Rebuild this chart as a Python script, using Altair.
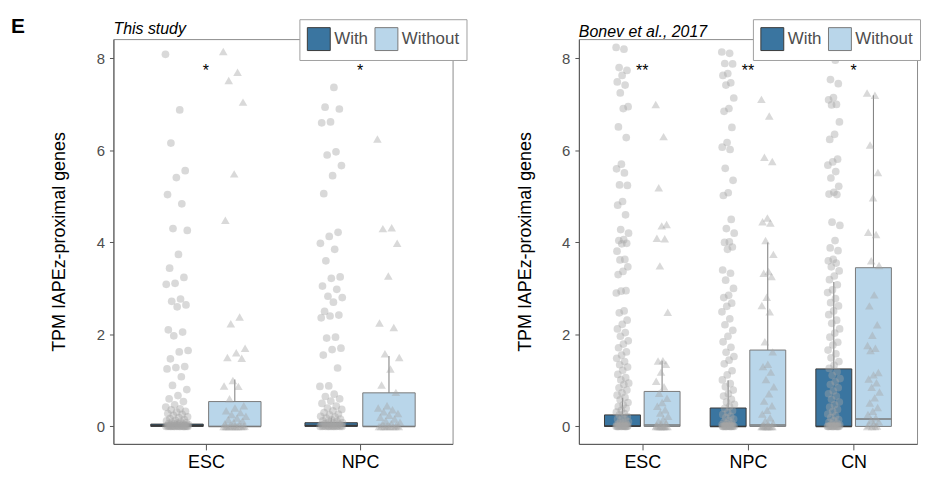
import altair as alt
import pandas as pd

# ---------------- data ----------------
groups = ["With", "Without"]
group_fill = ["#3A75A0", "#B9D6EA"]
group_stroke = ["#3A3A3A", "#7A7A7A"]
group_shape = ["circle", "triangle-up"]
group_size = [60, 75]
y_title = "TPM IAPEz-proximal genes"
panel_label = "E"
star_y = 7.72

# ---- panel 1: This study ----
p1_title = "This study"
p1_cats = ["ESC", "NPC"]
p1_sig = ["*", "*"]
p1_box_cat = ["ESC", "ESC", "NPC", "NPC"]
p1_box_grp = ["With", "Without", "With", "Without"]
p1_lower = [0.0, 0.0, 0.0, 0.0]
p1_q1 = [0.0, 0.0, 0.0, 0.0]
p1_median = [0.02, 0.0, 0.02, 0.0]
p1_q3 = [0.05, 0.54, 0.08, 0.73]
p1_upper = [0.12, 1.02, 0.19, 1.53]

p1_esc_with = [8.09, 6.88, 6.16, 5.56, 5.41, 5.04, 4.84, 4.30, 4.26, 3.74, 3.44, 3.24,
               3.11, 3.09, 2.77, 2.72, 2.64, 2.60, 2.10, 2.05, 1.97, 1.65, 1.62, 1.47,
               1.30, 1.28, 1.25, 1.08, 0.89, 0.80, 0.67, 0.60, 0.54, 0.47, 0.42, 0.38,
               0.36, 0.33, 0.31, 0.28, 0.26, 0.24, 0.21, 0.19, 0.17, 0.15, 0.13, 0.12,
               0.10, 0.09, 0.08, 0.07, 0.06, 0.05, 0.05, 0.04, 0.04, 0.03, 0.03, 0.02,
               0.02, 0.02, 0.01, 0.01, 0.01, 0.01, 0.0, 0.0, 0.0, 0.0, 0.0, 0.0,
               0.0, 0.0, 0.0, 0.0, 0.0, 0.0, 0.0, 0.0]
p1_esc_without = [8.15, 7.70, 7.52, 7.05, 5.49, 4.48, 2.38, 2.23, 1.70, 1.60, 1.50, 1.48,
                  1.00, 0.88, 0.87, 0.60, 0.45, 0.40, 0.34, 0.30, 0.26, 0.22, 0.18, 0.15,
                  0.12, 0.09, 0.06, 0.04, 0.02, 0.01, 0.0, 0.0, 0.0, 0.0, 0.0, 0.0,
                  0.0, 0.0, 0.0, 0.0]
p1_npc_with = [8.10, 7.37, 6.94, 6.90, 6.62, 6.60, 5.97, 5.90, 5.67, 5.45, 5.06, 4.22,
               4.13, 3.98, 3.85, 3.60, 3.25, 3.22, 3.05, 2.98, 2.83, 2.80, 2.70, 2.50,
               2.42, 2.40, 2.36, 1.94, 1.92, 1.70, 1.67, 1.55, 1.27, 0.88, 0.87, 0.70,
               0.65, 0.60, 0.55, 0.50, 0.44, 0.40, 0.37, 0.34, 0.30, 0.27, 0.25, 0.22,
               0.20, 0.18, 0.16, 0.14, 0.12, 0.11, 0.09, 0.08, 0.07, 0.06, 0.05, 0.04,
               0.04, 0.03, 0.03, 0.02, 0.02, 0.01, 0.01, 0.0, 0.0, 0.0, 0.0, 0.0,
               0.0, 0.0, 0.0, 0.0, 0.0, 0.0]
p1_npc_without = [6.25, 4.32, 4.30, 3.98, 3.27, 2.25, 2.15, 1.58, 1.50, 1.25, 0.90, 0.74,
                  0.45, 0.40, 0.36, 0.32, 0.28, 0.24, 0.20, 0.16, 0.12, 0.09, 0.06, 0.04,
                  0.02, 0.01, 0.0, 0.0, 0.0, 0.0, 0.0, 0.0, 0.0, 0.0]

# ---- panel 2: Bonev et al., 2017 ----
p2_title = "Bonev et al., 2017"
p2_cats = ["ESC", "NPC", "CN"]
p2_sig = ["**", "**", "*"]
p2_box_cat = ["ESC", "ESC", "NPC", "NPC", "CN", "CN"]
p2_box_grp = ["With", "Without", "With", "Without", "With", "Without"]
p2_lower = [0.0, 0.0, 0.0, 0.0, 0.0, 0.0]
p2_q1 = [0.0, 0.0, 0.0, 0.0, 0.0, 0.0]
p2_median = [0.01, 0.03, 0.0, 0.03, 0.0, 0.16]
p2_q3 = [0.25, 0.76, 0.40, 1.66, 1.25, 3.45]
p2_upper = [0.62, 1.43, 1.00, 4.00, 3.14, 7.20]

p2_esc_with = [8.24, 8.20, 7.80, 7.74, 7.63, 7.49, 7.42, 7.25, 6.95, 6.91, 6.51, 6.28,
               5.70, 5.60, 5.51, 5.25, 5.24, 4.89, 4.81, 4.60, 4.28, 4.20, 4.06, 4.04,
               3.98, 3.97, 3.81, 3.63, 3.62, 3.47, 3.37, 3.30, 2.95, 2.94, 2.90, 2.51,
               2.47, 2.31, 2.22, 2.12, 2.04, 1.96, 1.86, 1.79, 1.71, 1.62, 1.55, 1.48,
               1.41, 1.34, 1.29, 1.22, 1.13, 1.06, 1.01, 0.94, 0.91, 0.84, 0.79, 0.73,
               0.68, 0.63, 0.58, 0.52, 0.47, 0.43, 0.39, 0.35, 0.31, 0.28, 0.25, 0.22,
               0.19, 0.16, 0.14, 0.12, 0.10, 0.08, 0.06, 0.05, 0.04, 0.03, 0.02, 0.02,
               0.01, 0.01, 0.0, 0.0, 0.0, 0.0, 0.0, 0.0, 0.0, 0.0, 0.0, 0.0]
p2_esc_without = [7.00, 6.30, 5.19, 4.39, 4.36, 4.09, 4.08, 3.49, 2.48, 1.43, 1.42, 1.35,
                  1.18, 0.98, 0.86, 0.72, 0.61, 0.52, 0.44, 0.36, 0.29, 0.22, 0.16, 0.11,
                  0.07, 0.04, 0.02, 0.01, 0.0, 0.0, 0.0, 0.0, 0.0, 0.0, 0.0, 0.0]
p2_npc_with = [8.14, 8.11, 7.89, 7.88, 7.67, 7.63, 7.47, 7.42, 7.14, 6.91, 6.85, 6.50,
               6.17, 6.07, 6.02, 5.61, 5.35, 5.08, 5.02, 4.50, 4.30, 4.20, 4.01, 4.00,
               3.90, 3.85, 3.40, 3.33, 3.18, 3.00, 2.85, 2.80, 2.68, 2.61, 2.49, 2.34,
               2.21, 2.09, 1.96, 1.84, 1.72, 1.61, 1.52, 1.44, 1.36, 1.21, 1.12, 1.01,
               0.93, 0.86, 0.79, 0.71, 0.66, 0.59, 0.53, 0.48, 0.43, 0.39, 0.34, 0.30,
               0.26, 0.22, 0.19, 0.16, 0.13, 0.10, 0.08, 0.06, 0.04, 0.03, 0.02, 0.01,
               0.01, 0.0, 0.0, 0.0, 0.0, 0.0, 0.0, 0.0, 0.0, 0.0, 0.0, 0.0]
p2_npc_without = [7.11, 6.75, 5.85, 5.76, 4.53, 4.45, 4.42, 4.04, 3.74, 3.37, 3.33, 3.26,
                  2.81, 2.63, 2.49, 1.84, 1.62, 1.35, 1.30, 1.18, 1.02, 0.86, 0.71, 0.55,
                  0.45, 0.35, 0.27, 0.19, 0.12, 0.07, 0.04, 0.02, 0.0, 0.0, 0.0, 0.0,
                  0.0, 0.0, 0.0, 0.0]
p2_cn_with = [8.20, 7.96, 7.54, 7.45, 7.15, 7.10, 7.00, 6.99, 6.62, 6.35, 6.24, 5.81,
              5.75, 5.68, 5.54, 5.40, 5.22, 5.09, 5.05, 5.04, 4.44, 4.37, 4.04, 3.88,
              3.82, 3.63, 3.60, 3.55, 3.47, 3.38, 3.27, 3.19, 3.08, 2.97, 2.91, 2.78,
              2.69, 2.62, 2.51, 2.43, 2.31, 2.24, 2.12, 2.03, 1.94, 1.83, 1.77, 1.66,
              1.58, 1.49, 1.41, 1.33, 1.26, 1.19, 1.11, 1.04, 0.97, 0.91, 0.84, 0.77,
              0.71, 0.66, 0.59, 0.53, 0.47, 0.42, 0.37, 0.32, 0.27, 0.23, 0.19, 0.15,
              0.12, 0.09, 0.07, 0.05, 0.03, 0.02, 0.01, 0.0, 0.0, 0.0, 0.0, 0.0,
              0.0, 0.0, 0.0, 0.0, 0.0, 0.0]
p2_cn_without = [7.25, 7.20, 6.12, 5.52, 4.97, 4.22, 4.17, 3.60, 3.50, 2.86, 2.62, 2.21,
                 1.98, 1.76, 1.70, 1.65, 1.17, 1.12, 1.03, 0.95, 0.85, 0.75, 0.62, 0.51,
                 0.41, 0.33, 0.26, 0.19, 0.14, 0.10, 0.06, 0.03, 0.01, 0.0, 0.0, 0.0]

# ---------------- build tables ----------------
DODGE = 0.1875
HALF_BOX = 0.17
Y_DOMAIN = [-0.38, 8.42]


def box_table(cats, bcat, bgrp, lower, q1, med, q3, upper):
    rows = []
    for c, g, lo, a, m, b, hi in zip(bcat, bgrp, lower, q1, med, q3, upper):
        pos = cats.index(c) + 1 + (-DODGE if g == groups[0] else DODGE)
        rows.append(dict(cat=c, grp=g, pos=pos, x_lo=pos - HALF_BOX, x_hi=pos + HALF_BOX,
                         lower=lo, q1=a, median=m, q3=b, upper=hi))
    return pd.DataFrame(rows)


def point_table(cats, series):
    rows = []
    for (c, g), vals in series.items():
        pos = cats.index(c) + 1 + (-DODGE if g == groups[0] else DODGE)
        for k, v in enumerate(vals):
            rows.append(dict(cat=c, ptgrp=g, pos=pos, k=k, value=v))
    return pd.DataFrame(rows)


p1_box = box_table(p1_cats, p1_box_cat, p1_box_grp, p1_lower, p1_q1, p1_median, p1_q3, p1_upper)
p2_box = box_table(p2_cats, p2_box_cat, p2_box_grp, p2_lower, p2_q1, p2_median, p2_q3, p2_upper)
p1_pts = point_table(p1_cats, {("ESC", "With"): p1_esc_with, ("ESC", "Without"): p1_esc_without,
                               ("NPC", "With"): p1_npc_with, ("NPC", "Without"): p1_npc_without})
p2_pts = point_table(p2_cats, {("ESC", "With"): p2_esc_with, ("ESC", "Without"): p2_esc_without,
                               ("NPC", "With"): p2_npc_with, ("NPC", "Without"): p2_npc_without,
                               ("CN", "With"): p2_cn_with, ("CN", "Without"): p2_cn_without})


def make_panel(cats, sig, box, pts, title, width, jitter, legend_x, add_label):
    n = len(cats)
    label_expr = " : ".join([f"datum.value == {i + 1} ? '{c}'" for i, c in enumerate(cats)]) + " : ''"
    xscale = alt.Scale(domain=[0.4, n + 0.6], nice=False, zero=False)
    yscale = alt.Scale(domain=Y_DOMAIN, nice=False, zero=False)
    xaxis = alt.Axis(values=list(range(1, n + 1)), labelExpr=label_expr, title=None, grid=False,
                     tickSize=6, labelPadding=4, labelFontSize=18, labelColor="black",
                     domainColor="#555555", tickColor="#555555", labelFont="Liberation Sans")
    yaxis = alt.Axis(values=[0, 2, 4, 6, 8], title=y_title, grid=False, tickSize=4, labelPadding=5,
                     labelFontSize=15, labelColor="#4D4D4D", titleFontSize=18,
                     titleFontWeight="normal", titleColor="black", minExtent=18, maxExtent=18,
                     titlePadding=27, domainColor="#555555", tickColor="#555555",
                     labelFont="Liberation Sans", titleFont="Liberation Sans")
    fill_scale = alt.Scale(domain=groups, range=group_fill)
    stroke_scale = alt.Scale(domain=groups, range=group_stroke)

    base_box = alt.Chart(box)
    rects = base_box.mark_rect(strokeWidth=1).encode(
        x=alt.X("x_lo:Q", scale=xscale, axis=xaxis),
        x2="x_hi:Q",
        y=alt.Y("q1:Q", scale=yscale, axis=yaxis),
        y2="q3:Q",
        fill=alt.Fill("grp:N", scale=fill_scale, legend=alt.Legend(
            title=None, orient="none", legendX=legend_x, legendY=-20, direction="horizontal",
            symbolType="square", symbolSize=530, labelFontSize=17, labelColor="#4D4D4D",
            labelFont="Liberation Sans", labelOffset=3, columnPadding=4, padding=7,
            fillColor="white", strokeColor="#A0A0A0", symbolStrokeColor="#222222",
            symbolStrokeWidth=1, symbolOpacity=1)),
        stroke=alt.Stroke("grp:N", scale=stroke_scale, legend=None),
    )
    whisk_hi = base_box.mark_rule(strokeWidth=1, color="#7A7A7A").encode(
        x="pos:Q", y="q3:Q", y2="upper:Q")
    whisk_lo = base_box.mark_rule(strokeWidth=1, color="#7A7A7A").encode(
        x="pos:Q", y="lower:Q", y2="q1:Q")
    medians = base_box.mark_rule(strokeWidth=1.5).encode(
        x="x_lo:Q", x2="x_hi:Q", y="median:Q",
        stroke=alt.Stroke("grp:N", scale=stroke_scale, legend=None))

    point_layers = []
    for g, shp, sz in zip(groups, group_shape, group_size):
        point_layers.append(
            alt.Chart(pts).transform_filter(alt.datum.ptgrp == g).transform_calculate(
                xj=f"datum.pos + ((datum.k * 0.6180339887) % 1 - 0.5) * 2 * {jitter}"
            ).mark_point(filled=True, color="#A5A5A5", opacity=0.42, strokeWidth=0,
                         shape=shp, size=sz).encode(x="xj:Q", y="value:Q"))

    sig_df = pd.DataFrame({"pos": list(range(1, n + 1)), "sig": sig, "y": [star_y] * n})
    stars = alt.Chart(sig_df).mark_text(fontSize=16, color="black", font="Liberation Sans",
                                        baseline="middle").encode(
        x="pos:Q", y="y:Q", text="sig:N")

    layers = [rects, whisk_lo, whisk_hi, medians] + point_layers + [stars]
    if add_label:
        lab = alt.Chart(pd.DataFrame({"t": [panel_label]})).mark_text(
            fontSize=21, fontWeight="bold", font="Liberation Sans", align="left",
            baseline="alphabetic", color="black").encode(
            x=alt.value(-103), y=alt.value(-6), text="t:N")
        layers.append(lab)
    return alt.layer(*layers).properties(
        width=width, height=407,
        title=alt.TitleParams(title, fontStyle="italic", fontWeight="normal", fontSize=16,
                              anchor="start", frame="group", offset=2, dy=23, color="black",
                              font="Liberation Sans"))


left = make_panel(p1_cats, p1_sig, p1_box, p1_pts, p1_title, 341, 0.075, 187, True)
right = make_panel(p2_cats, p2_sig, p2_box, p2_pts, p2_title, 340, 0.06, 175, False)

chart = alt.hconcat(left, right, spacing=48).resolve_scale(
    fill="independent", stroke="independent", x="independent", y="independent"
).resolve_legend(fill="independent").properties(
    padding={"left": 2, "top": 6, "right": 0, "bottom": 0}, background="white"
).configure_view(stroke="#8C8C8C", strokeWidth=1).configure_axis(
    domainWidth=1, tickWidth=1)

chart.save("out.html", embed_options={"renderer": "svg", "actions": False})
